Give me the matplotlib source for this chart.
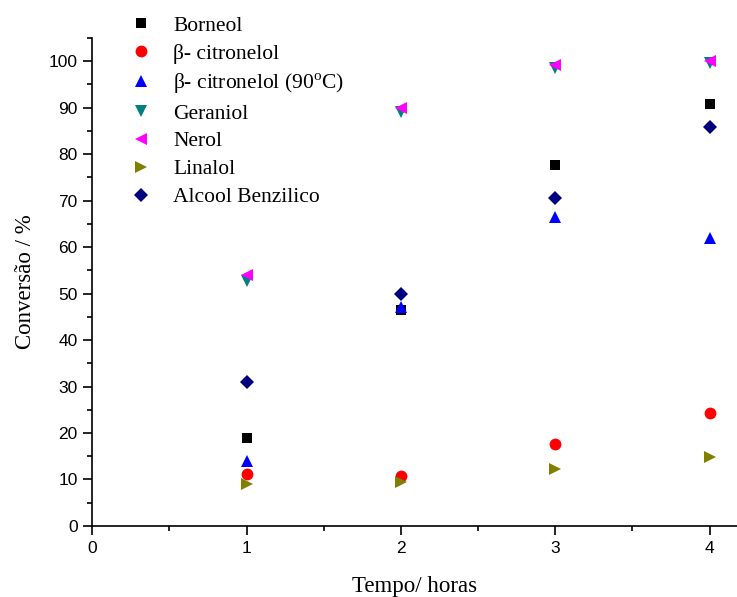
import matplotlib
matplotlib.use('Agg')
import matplotlib.pyplot as plt
import matplotlib.ticker as ticker

plt.rcParams['mathtext.fontset'] = 'custom'
plt.rcParams['mathtext.rm'] = 'Liberation Serif'

# reaction time (h)
tempo = [1, 2, 3, 4]

# conversion (%) per substrate
borneol = [18.9, 46.5, 77.6, 90.8]
citronelol = [11.1, 10.7, 17.7, 24.4]
citronelol_90 = [13.9, 47.2, 66.5, 62.0]
geraniol = [52.8, 89.1, 98.5, 99.6]
nerol = [53.9, 90.0, 99.2, 100.0]
linalol = [9.1, 9.4, 12.2, 14.9]
benzilico = [31.0, 49.9, 70.6, 85.9]

series = [
    ('Borneol', borneol, 's', 'black', 7.5),
    ('β- citronelol', citronelol, 'o', 'red', 8.5),
    ('β- citronelol (90$^{\\rm o}$C)', citronelol_90, '^', 'blue', 9),
    ('Geraniol', geraniol, 'v', '#008080', 9),
    ('Nerol', nerol, '<', 'magenta', 9),
    ('Linalol', linalol, '>', '#808000', 9),
    ('Alcool Benzilico', benzilico, 'D', '#000080', 7.5),
]

fig = plt.figure(figsize=(7.37, 5.97), dpi=100)
ax = fig.add_axes([0.1252, 0.119, 0.8748, 0.8173])

for label, vals, mk, col, ms in series:
    ax.plot(tempo, vals, linestyle='none', marker=mk, color=col,
            markersize=ms, markeredgewidth=0, label=label)

ax.set_xlim(0, 4.178)
ax.set_ylim(0, 105)
ax.xaxis.set_major_locator(ticker.MultipleLocator(1))
ax.xaxis.set_minor_locator(ticker.MultipleLocator(0.5))
ax.yaxis.set_major_locator(ticker.MultipleLocator(10))
ax.yaxis.set_minor_locator(ticker.MultipleLocator(5))

ax.spines['top'].set_visible(False)
ax.spines['right'].set_visible(False)
for s in ('left', 'bottom'):
    ax.spines[s].set_linewidth(1.2)

ax.tick_params(which='major', direction='out', length=6.5, width=1.2,
               labelsize=12.5, pad=4)
ax.tick_params(which='minor', direction='out', length=3.5, width=1.2)
for lab in ax.get_xticklabels() + ax.get_yticklabels():
    lab.set_family('Liberation Sans')

ax.set_xlabel('Tempo/ horas', family='Liberation Serif', fontsize=16.5, labelpad=15)
ax.set_ylabel('Conversão / %', family='Liberation Serif', fontsize=16.5, labelpad=9)

leg = ax.legend(loc='upper left', bbox_to_anchor=(0.158, 0.988),
                bbox_transform=fig.transFigure, frameon=False,
                prop={'family': 'Liberation Serif', 'size': 15.5},
                labelspacing=0.36, handletextpad=0.75, handlelength=1.5,
                borderaxespad=0)

fig.savefig('out.png', dpi=100)
